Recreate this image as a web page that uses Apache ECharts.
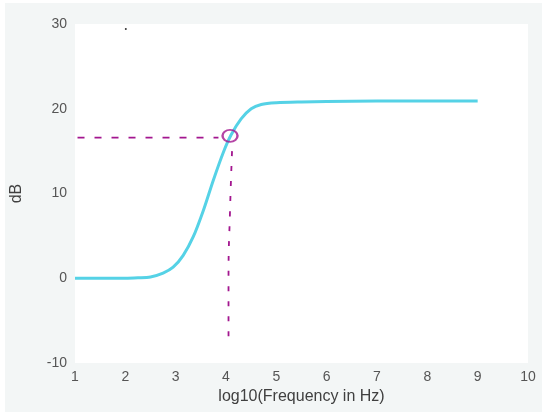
<!DOCTYPE html>
<html>
<head>
<meta charset="utf-8">
<script src="https://cdn.jsdelivr.net/npm/echarts@6/dist/echarts.min.js"></script>
<style>
html,body{margin:0;padding:0;background:#fff;}
#c{width:542px;height:415px;}
</style>
</head>
<body>
<div id="c"></div>
<script>
// Frequency response curve (log10 Hz vs dB)
var freqLog = [1, 1.5, 2, 2.25, 2.5, 2.75, 2.95, 3.15, 3.35, 3.55, 3.75, 3.95, 4.1, 4.3, 4.5, 4.7, 5, 5.5, 6, 7, 8, 9];
var gainDb  = [0, 0, 0, 0.05, 0.15, 0.6, 1.3, 2.7, 4.9, 8.0, 11.6, 14.9, 16.9, 18.8, 20.0, 20.5, 20.7, 20.8, 20.85, 20.9, 20.9, 20.9];

// Hand-drawn annotation (magenta dashed guides)
var guideHX = [1.05, 3.85];
var guideHY = [16.6, 16.6];
var guideVX = [4.12, 4.08, 4.05, 4.05];
var guideVY = [15.0, 8.0, 0.0, -7.9];
var markX = [4.08];
var markY = [16.8];
var dotX = [2.01];
var dotY = [29.4];

var xTicks = [1,2,3,4,5,6,7,8,9,10];
var yTicks = [-10,0,10,20,30];

function pairs(xs, ys){ return xs.map(function(x,i){ return [x, ys[i]]; }); }

var chart = echarts.init(document.getElementById('c'), null, {renderer:'canvas'});
var labelFont = 'Liberation Sans, Arial, sans-serif';
chart.setOption({
  animation: false,
  backgroundColor: '#ffffff',
  graphic: [{
    type: 'rect', z: -10, silent: true,
    shape: {x: 5, y: 3, width: 537, height: 409},
    style: {fill: '#f3f6f6'}
  }],
  grid: {
    left: 75, right: 14, top: 24, bottom: 52,
    show: true, backgroundColor: '#ffffff', borderWidth: 0
  },
  xAxis: {
    type: 'value', min: 1, max: 10, interval: 1,
    name: 'log10(Frequency in Hz)', nameLocation: 'middle', nameGap: 25,
    nameTextStyle: {fontSize: 16, color: '#404040', fontFamily: labelFont},
    axisLine: {show: false}, axisTick: {show: false}, splitLine: {show: false},
    axisLabel: {fontSize: 14, color: '#555', margin: 7, fontFamily: labelFont,
      formatter: function(v){ return xTicks.indexOf(v) >= 0 ? String(v) : ''; }}
  },
  yAxis: {
    type: 'value', min: -10, max: 30, interval: 10,
    name: 'dB', nameLocation: 'middle', nameGap: 50,
    nameTextStyle: {fontSize: 16, color: '#404040', fontFamily: labelFont},
    axisLine: {show: false}, axisTick: {show: false}, splitLine: {show: false},
    axisLabel: {fontSize: 14, color: '#555', margin: 8, fontFamily: labelFont,
      formatter: function(v){ return yTicks.indexOf(v) >= 0 ? String(v) : ''; }}
  },
  series: [
    {
      type: 'line', data: pairs(freqLog, gainDb), smooth: 0.3, showSymbol: false,
      lineStyle: {color: '#55d2e6', width: 3}, z: 2
    },
    {
      type: 'line', data: pairs(guideHX, guideHY), showSymbol: false,
      lineStyle: {color: '#a3168f', width: 1.8, type: [7, 10]}, z: 3
    },
    {
      type: 'line', data: pairs(guideVX, guideVY), showSymbol: false, smooth: true,
      lineStyle: {color: '#a3168f', width: 1.8, type: [5, 10]}, z: 3
    },
    {
      type: 'scatter', data: pairs(markX, markY), symbol: 'circle', symbolSize: [15, 12],
      itemStyle: {color: 'rgba(0,0,0,0)', borderColor: '#a3168f', borderWidth: 2.2}, z: 4
    },
    {
      type: 'scatter', data: pairs(dotX, dotY), symbolSize: 2,
      itemStyle: {color: '#000'}, z: 4
    }
  ]
});
</script>
</body>
</html>
